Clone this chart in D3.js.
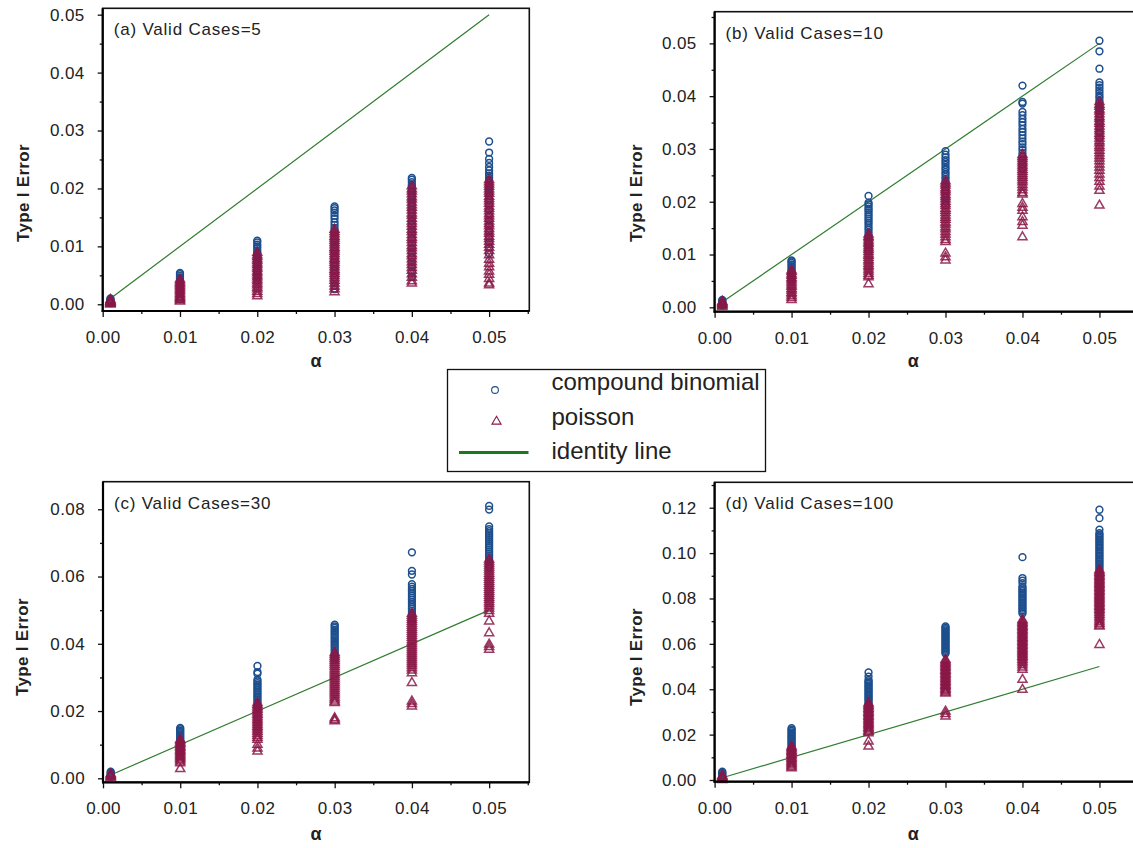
<!DOCTYPE html>
<html>
<head>
<meta charset="utf-8">
<script src="https://cdn.jsdelivr.net/npm/d3@7"></script>
<style>
  html, body { margin: 0; padding: 0; background: #fff; }
  svg { display: block; font-family: "Liberation Sans", Arial, sans-serif; }
</style>
</head>
<body>
<svg id="chart" width="1133" height="848"></svg>
<script>
// Nominal significance levels (x positions of each column of results)
const alphas = [0.001, 0.01, 0.02, 0.03, 0.04, 0.05];
const xTickValues = [0, 0.01, 0.02, 0.03, 0.04, 0.05];

const panelTitles = ["(a) Valid Cases=5", "(b) Valid Cases=10", "(c) Valid Cases=30", "(d) Valid Cases=100"];
const yTicksA = [0, 0.01, 0.02, 0.03, 0.04, 0.05];
const yTicksB = [0, 0.01, 0.02, 0.03, 0.04, 0.05];
const yTicksC = [0, 0.02, 0.04, 0.06, 0.08];
const yTicksD = [0, 0.02, 0.04, 0.06, 0.08, 0.10, 0.12];

const seriesNames = ["compound binomial", "poisson", "identity line"];

// Empirical type I error per alpha, one inner list per alpha level
const binomA = [
  [.0010,.0008,.0007,.0005,.0003,.0002],
  [.0054,.0052,.0049,.0046,.0044,.0041,.0038,.0035,.0033,.0030,.0027,.0024,.0021,.0017,.0013,.0009],
  [.0110,.0107,.0103,.0100,.0097,.0093,.0090,.0087,.0083,.0080,.0077,.0073,.0070,.0066,.0062,.0059,.0055,.0051,.0046,.0041],
  [.0169,.0166,.0162,.0158,.0153,.0148,.0142,.0137,.0132,.0128,.0123,.0118,.0113,.0108,.0103,.0098,.0093,.0088,.0083,.0078,.0072,.0066,.0060,.0053,.0046,.0039,.0032,.0026],
  [.0218,.0215,.0211,.0207,.0204,.0200,.0196,.0192,.0188,.0184,.0180,.0175,.0170,.0164,.0158,.0151,.0144,.0137,.0129,.0121,.0113,.0105,.0097,.0089,.0081,.0073,.0065,.0056,.0047],
  [.0281,.0262,.0251,.0244,.0237,.0231,.0226,.0222,.0218,.0214,.0210,.0206,.0202,.0198,.0193,.0187,.0180,.0172,.0163,.0154,.0145,.0136,.0126,.0117,.0107,.0098,.0088]
];
const poissonA = [
  [.0008,.0006,.0005,.0004,.0003,.0002,.0001,.0000],
  [.0043,.0040,.0037,.0035,.0032,.0029,.0026,.0024,.0021,.0018,.0016,.0013,.0011,.0009,.0007,.0005],
  [.0089,.0085,.0082,.0078,.0075,.0071,.0068,.0064,.0061,.0057,.0054,.0050,.0047,.0043,.0040,.0036,.0033,.0029,.0026,.0022,.0018,.0014],
  [.0129,.0125,.0121,.0117,.0114,.0110,.0106,.0102,.0098,.0095,.0091,.0087,.0083,.0079,.0076,.0072,.0068,.0064,.0060,.0057,.0053,.0049,.0045,.0041,.0036,.0031,.0026,.0021],
  [.0204,.0199,.0195,.0190,.0185,.0181,.0176,.0171,.0167,.0162,.0157,.0153,.0148,.0143,.0139,.0134,.0129,.0125,.0120,.0115,.0111,.0106,.0101,.0097,.0092,.0087,.0083,.0078,.0073,.0068,.0063,.0058,.0052,.0046,.0040,.0036],
  [.0215,.0211,.0207,.0203,.0199,.0195,.0191,.0186,.0182,.0178,.0174,.0169,.0165,.0161,.0156,.0152,.0148,.0143,.0139,.0135,.0130,.0126,.0122,.0117,.0113,.0108,.0103,.0098,.0092,.0085,.0077,.0070,.0064,.0057,.0051,.0044,.0036,.0033]
];

const binomB = [
  [.0014,.0012,.0010,.0008,.0006,.0004],
  [.0089,.0087,.0084,.0081,.0078,.0075,.0072,.0069,.0066,.0063,.0060,.0057,.0054,.0050],
  [.0211,.0198,.0195,.0191,.0187,.0184,.0180,.0176,.0172,.0168,.0164,.0160,.0156,.0151,.0147,.0142,.0137,.0132,.0126,.0120,.0113,.0106],
  [.0296,.0289,.0284,.0279,.0275,.0270,.0265,.0261,.0256,.0252,.0247,.0243,.0238,.0233,.0228,.0222,.0216,.0209,.0201,.0193],
  [.0420,.0389,.0386,.0370,.0364,.0357,.0351,.0345,.0338,.0332,.0326,.0320,.0314,.0309,.0303,.0298,.0292,.0286,.0279,.0271,.0263],
  [.0505,.0485,.0452,.0426,.0421,.0416,.0411,.0406,.0401,.0397,.0392,.0387,.0382,.0377,.0372,.0367,.0361,.0355,.0348,.0340,.0331,.0322]
];
const poissonB = [
  [.0011,.0009,.0007,.0005,.0003,.0001],
  [.0070,.0067,.0063,.0060,.0056,.0053,.0049,.0046,.0042,.0039,.0035,.0032,.0028,.0025,.0021,.0018,.0014],
  [.0138,.0134,.0131,.0127,.0123,.0120,.0116,.0112,.0109,.0105,.0101,.0098,.0094,.0090,.0087,.0083,.0079,.0076,.0072,.0068,.0064,.0060,.0057,.0044],
  [.0239,.0235,.0231,.0226,.0222,.0218,.0213,.0209,.0205,.0200,.0196,.0192,.0187,.0183,.0179,.0174,.0170,.0166,.0161,.0157,.0152,.0148,.0143,.0138,.0133,.0128,.0124,.0102,.0095,.0089],
  [.0289,.0285,.0281,.0277,.0273,.0269,.0265,.0261,.0257,.0253,.0249,.0245,.0241,.0237,.0232,.0227,.0222,.0217,.0214,.0196,.0189,.0183,.0171,.0162,.0155,.0133],
  [.0389,.0384,.0380,.0375,.0371,.0366,.0361,.0357,.0352,.0348,.0343,.0338,.0334,.0329,.0325,.0320,.0315,.0311,.0306,.0302,.0297,.0292,.0287,.0282,.0277,.0271,.0265,.0259,.0252,.0245,.0238,.0229,.0221,.0193]
];

const binomC = [
  [.0020,.0017,.0014,.0011,.0008,.0005],
  [.0150,.0146,.0142,.0138,.0134,.0130,.0126,.0122,.0118,.0114,.0110,.0106,.0101,.0096],
  [.0334,.0316,.0311,.0293,.0288,.0283,.0278,.0273,.0268,.0263,.0258,.0253,.0248,.0243,.0238,.0233,.0228,.0222,.0216,.0208],
  [.0457,.0452,.0447,.0441,.0436,.0430,.0425,.0419,.0414,.0408,.0403,.0397,.0392,.0386,.0380,.0374,.0367,.0360,.0352],
  [.0672,.0617,.0606,.0577,.0570,.0563,.0557,.0550,.0544,.0537,.0531,.0524,.0518,.0511,.0505,.0498,.0491,.0484,.0476,.0467],
  [.0810,.0799,.0749,.0741,.0735,.0729,.0723,.0717,.0711,.0705,.0699,.0693,.0687,.0681,.0675,.0669,.0663,.0657,.0650,.0643,.0635,.0627]
];
const poissonC = [
  [.0013,.0010,.0007,.0004,.0002],
  [.0115,.0111,.0107,.0103,.0099,.0095,.0091,.0087,.0083,.0079,.0075,.0071,.0067,.0063,.0059,.0055,.0050,.0045,.0028],
  [.0224,.0219,.0214,.0209,.0204,.0199,.0194,.0189,.0184,.0179,.0174,.0169,.0164,.0159,.0154,.0149,.0144,.0139,.0133,.0127,.0121,.0115,.0100,.0089,.0080],
  [.0373,.0367,.0361,.0355,.0349,.0343,.0337,.0331,.0325,.0319,.0313,.0307,.0301,.0295,.0289,.0283,.0277,.0271,.0265,.0259,.0253,.0247,.0241,.0235,.0229,.0224,.0179,.0174,.0170],
  [.0490,.0484,.0478,.0472,.0466,.0460,.0454,.0448,.0442,.0436,.0430,.0424,.0418,.0412,.0406,.0400,.0394,.0388,.0382,.0376,.0370,.0364,.0358,.0352,.0346,.0340,.0334,.0328,.0321,.0313,.0284,.0229,.0221,.0214],
  [.0651,.0645,.0639,.0633,.0627,.0621,.0615,.0609,.0603,.0597,.0591,.0585,.0579,.0573,.0567,.0561,.0555,.0549,.0543,.0537,.0531,.0525,.0519,.0512,.0505,.0498,.0490,.0467,.0432,.0398,.0391,.0383]
];

const binomD = [
  [.0037,.0032,.0027,.0022,.0017,.0012],
  [.0228,.0222,.0216,.0210,.0204,.0198,.0192,.0186,.0180,.0174,.0168,.0162,.0156,.0150,.0144,.0138,.0132],
  [.0474,.0456,.0441,.0435,.0429,.0423,.0417,.0411,.0405,.0399,.0393,.0387,.0381,.0375,.0369,.0363,.0357,.0351,.0344,.0337,.0330,.0323],
  [.0677,.0671,.0665,.0659,.0653,.0647,.0641,.0635,.0629,.0623,.0617,.0611,.0605,.0599,.0593,.0587,.0581,.0575,.0569,.0563,.0557],
  [.0982,.0890,.0879,.0868,.0853,.0846,.0839,.0832,.0825,.0818,.0811,.0804,.0797,.0790,.0783,.0776,.0769,.0762,.0755,.0748,.0741,.0734],
  [.1191,.1154,.1103,.1088,.1081,.1074,.1067,.1060,.1053,.1046,.1039,.1032,.1025,.1018,.1011,.1004,.0997,.0990,.0983,.0976,.0969,.0962,.0955,.0948,.0941,.0933,.0926]
];
const poissonD = [
  [.0019,.0015,.0011,.0007,.0004,.0001],
  [.0148,.0142,.0136,.0130,.0124,.0118,.0112,.0106,.0100,.0094,.0088,.0082,.0076,.0070,.0064,.0058,.0052],
  [.0339,.0333,.0327,.0321,.0315,.0309,.0303,.0297,.0291,.0285,.0279,.0273,.0267,.0261,.0255,.0249,.0243,.0237,.0231,.0225,.0219,.0213,.0207,.0170,.0148],
  [.0530,.0524,.0518,.0512,.0506,.0500,.0494,.0488,.0482,.0476,.0470,.0464,.0458,.0452,.0446,.0440,.0434,.0428,.0422,.0416,.0410,.0404,.0398,.0392,.0386,.0382,.0302,.0291,.0280],
  [.0706,.0700,.0694,.0688,.0682,.0676,.0670,.0664,.0658,.0652,.0646,.0640,.0634,.0628,.0622,.0616,.0610,.0604,.0598,.0592,.0586,.0580,.0574,.0568,.0562,.0556,.0550,.0544,.0538,.0531,.0523,.0515,.0506,.0496,.0486,.0442,.0398],
  [.0926,.0920,.0914,.0908,.0902,.0896,.0890,.0884,.0878,.0872,.0866,.0860,.0854,.0848,.0842,.0836,.0830,.0824,.0818,.0812,.0806,.0800,.0794,.0788,.0782,.0776,.0770,.0764,.0758,.0751,.0744,.0737,.0729,.0721,.0713,.0705,.0697,.0689,.0681,.0677,.0596]
];

// Identity line endpoints (alpha = type I error)
const identity = [0.001, 0.05];

// ---- styling ----
const BLUE = "#1d4f8e";
const MAROON = "#8a1747";
const GREEN = "#2f7d2f";
const LEGEND_GREEN = "#1c7a1c";

// ---- panel geometry ----
const panels = [
  { title: panelTitles[0], binom: binomA, pois: poissonA, yTicks: yTicksA, yMinorStep: 0.01,
    left: 102.7, right: 529.3, top: 8.3, bottom: 311, xMax: 0.0552, yMin: -0.00116, yMax: 0.0511,
    yLabelX: 23, yLabelY: 193, alphaY: 367 },
  { title: panelTitles[1], binom: binomB, pois: poissonB, yTicks: yTicksB, yMinorStep: 0.01,
    left: 714.6, right: 1141, top: 11.7, bottom: 311.7, xMax: 0.0554, yMin: -0.00083, yMax: 0.0560,
    yLabelX: 636, yLabelY: 193, alphaY: 367 },
  { title: panelTitles[2], binom: binomC, pois: poissonC, yTicks: yTicksC, yMinorStep: 0.02,
    left: 103, right: 529.3, top: 481.7, bottom: 782.3, xMax: 0.0552, yMin: -0.00119, yMax: 0.0882,
    yLabelX: 22, yLabelY: 647, alphaY: 840 },
  { title: panelTitles[3], binom: binomD, pois: poissonD, yTicks: yTicksD, yMinorStep: 0.02,
    left: 714.6, right: 1141, top: 482.3, bottom: 781.7, xMax: 0.0554, yMin: -0.00075, yMax: 0.1312,
    yLabelX: 636, yLabelY: 657, alphaY: 840 }
];

const svg = d3.select("#chart");
svg.append("rect").attr("width", 1133).attr("height", 848).attr("fill", "#fff");

const fmt = d3.format(".2f");
const triangle = d3.symbol().type(d3.symbolTriangle).size(36);

panels.forEach(p => {
  const x = d3.scaleLinear().domain([0, p.xMax]).range([p.left, p.right]);
  const y = d3.scaleLinear().domain([p.yMin, p.yMax]).range([p.bottom, p.top]);
  const g = svg.append("g");

  // frame
  g.append("rect")
    .attr("x", p.left).attr("y", p.top)
    .attr("width", p.right - p.left).attr("height", p.bottom - p.top)
    .attr("fill", "none").attr("stroke", "#111").attr("stroke-width", 1.6);

  // identity line
  g.append("line")
    .attr("x1", x(identity[0])).attr("y1", y(identity[0]))
    .attr("x2", x(identity[1])).attr("y2", y(identity[1]))
    .attr("stroke", GREEN).attr("stroke-width", 1.2);

  // compound binomial circles
  const bPts = [];
  p.binom.forEach((vals, i) => vals.forEach(v => bPts.push([alphas[i], v])));
  g.append("g").selectAll("circle").data(bPts).join("circle")
    .attr("cx", d => x(d[0])).attr("cy", d => y(d[1])).attr("r", 3.4)
    .attr("fill", "none").attr("stroke", BLUE).attr("stroke-width", 1.5);

  // poisson triangles
  const pPts = [];
  p.pois.forEach((vals, i) => vals.forEach(v => pPts.push([alphas[i], v])));
  g.append("g").selectAll("path").data(pPts).join("path")
    .attr("d", triangle)
    .attr("transform", d => `translate(${x(d[0])},${y(d[1])})`)
    .attr("fill", "none").attr("stroke", MAROON).attr("stroke-width", 1.5)
    .attr("stroke-opacity", 0.85);

  // x axis: major ticks with labels, minor ticks between
  const xMinor = d3.range(0.005, p.xMax + 1e-9, 0.01);
  g.append("g").attr("transform", `translate(0,${p.bottom})`)
    .call(d3.axisBottom(x).tickValues(xMinor).tickSize(3).tickFormat(""))
    .call(a => a.select(".domain").remove())
    .call(a => a.selectAll("line").attr("stroke", "#111").attr("stroke-width", 1.3));
  g.append("g").attr("transform", `translate(0,${p.bottom})`)
    .call(d3.axisBottom(x).tickValues(xTickValues).tickSize(6).tickPadding(14).tickFormat(fmt))
    .call(a => a.select(".domain").remove())
    .call(a => a.selectAll("line").attr("stroke", "#111").attr("stroke-width", 1.3))
    .call(a => a.selectAll("text").attr("font-size", 17).attr("fill", "#222")
      .attr("letter-spacing", 0.4).attr("font-family", "Liberation Sans, Arial, sans-serif"));

  // y axis
  const yMinor = p.yTicks.map(t => t + p.yMinorStep / 2).filter(t => t <= p.yMax);
  g.append("g").attr("transform", `translate(${p.left},0)`)
    .call(d3.axisLeft(y).tickValues(yMinor).tickSize(3).tickFormat(""))
    .call(a => a.select(".domain").remove())
    .call(a => a.selectAll("line").attr("stroke", "#111").attr("stroke-width", 1.3));
  g.append("g").attr("transform", `translate(${p.left},0)`)
    .call(d3.axisLeft(y).tickValues(p.yTicks).tickSize(5).tickPadding(13).tickFormat(fmt))
    .call(a => a.select(".domain").remove())
    .call(a => a.selectAll("line").attr("stroke", "#111").attr("stroke-width", 1.3))
    .call(a => a.selectAll("text").attr("font-size", 17).attr("fill", "#222")
      .attr("letter-spacing", 0.4).attr("font-family", "Liberation Sans, Arial, sans-serif"));

  // axis lines (heavier left and bottom)
  g.append("line").attr("x1", p.left).attr("x2", p.left).attr("y1", p.top).attr("y2", p.bottom + 1)
    .attr("stroke", "#000").attr("stroke-width", 2.2);
  g.append("line").attr("x1", p.left - 1).attr("x2", p.right).attr("y1", p.bottom).attr("y2", p.bottom)
    .attr("stroke", "#000").attr("stroke-width", 2.2);

  // panel title
  g.append("text").attr("x", p.left + 11).attr("y", p.top + 27)
    .attr("font-size", 17).attr("letter-spacing", 0.8).attr("fill", "#222")
    .text(p.title);

  // axis titles
  g.append("text")
    .attr("transform", `translate(${p.yLabelX + 6},${p.yLabelY}) rotate(-90)`)
    .attr("text-anchor", "middle").attr("font-size", 17).attr("font-weight", "bold")
    .attr("letter-spacing", 0.3).attr("fill", "#222")
    .text("Type I Error");
  g.append("text")
    .attr("x", (p.left + Math.min(p.right, 1140)) / 2 + (p.right > 1133 ? -14 : 0))
    .attr("y", p.alphaY)
    .attr("text-anchor", "middle").attr("font-size", 18).attr("font-weight", "bold").attr("fill", "#222")
    .text("α");
});

// ---- legend ----
const lg = svg.append("g");
lg.append("rect").attr("x", 447.5).attr("y", 369.5).attr("width", 318).attr("height", 102)
  .attr("fill", "#fff").attr("stroke", "#111").attr("stroke-width", 1.3);
const legendRows = [390, 424.5, 459];
lg.append("circle").attr("cx", 495).attr("cy", 390).attr("r", 3.4)
  .attr("fill", "none").attr("stroke", BLUE).attr("stroke-width", 1.1);
lg.append("path").attr("d", triangle).attr("transform", "translate(496.5,421.5)")
  .attr("fill", "none").attr("stroke", MAROON).attr("stroke-width", 1.1);
lg.append("line").attr("x1", 459).attr("x2", 528.5).attr("y1", 452.5).attr("y2", 452.5)
  .attr("stroke", LEGEND_GREEN).attr("stroke-width", 3);
lg.selectAll("text.leg").data(seriesNames).join("text").attr("class", "leg")
  .attr("x", 551.5).attr("y", (d, i) => legendRows[i])
  .attr("font-size", 24).attr("fill", "#222")
  .text(d => d);
</script>
</body>
</html>
